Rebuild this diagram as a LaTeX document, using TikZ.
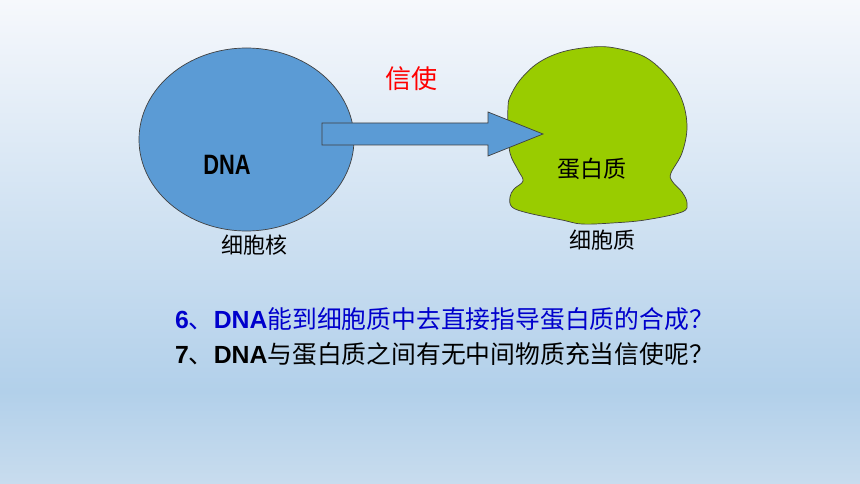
\documentclass[tikz,border=0pt]{standalone}
\usepackage{fontspec}
\setmainfont{Liberation Sans}
\newfontfamily\cjk{Noto Sans CJK SC}
\newfontfamily\narrowsans[FakeStretch=0.78]{Liberation Sans}
\usepackage{tikz}
\usetikzlibrary{shapes.geometric}
\definecolor{bgtop}{HTML}{F6F8FC}
\definecolor{bgmid}{HTML}{B2D0EA}
\definecolor{bgbot}{HTML}{C8DCEE}
\definecolor{nucblue}{HTML}{5B9BD5}
\definecolor{plasmagreen}{HTML}{99CC00}
\definecolor{qblue}{HTML}{0000CC}
\tikzset{%
  outline/.style = {draw=black!75, line width=0.7pt},
     cell/.style = {ellipse, outline, fill=nucblue, inner sep=0pt},
      tag/.style = {inner sep=0pt, font=\cjk\fontsize{22}{26}\selectfont},
     line/.style = {inner sep=0pt, anchor=base west,
                    font=\fontsize{24.8}{28}\selectfont\bfseries},
}
\newcommand{\zh}[1]{{\cjk\mdseries #1}}

\begin{document}
\begin{tikzpicture}[x=1pt, y=-1pt]
  \useasboundingbox (0,0) rectangle (860,484);
  \shade[top color=bgtop, bottom color=bgmid] (0,0) rectangle (860,392);
  \shade[top color=bgmid, bottom color=bgbot] (0,391) rectangle (860,484);

  % nucleus and cytoplasm
  \node (nucleus) [cell, minimum width=215pt, minimum height=183pt] at (246.5,139.5) {};
  \draw[outline, fill=plasmagreen] plot[smooth cycle, tension=0.6] coordinates {
    (508,107) (508,127) (510,153) (518,170) (523,181) (514,189) (510,197)
    (512,207) (528,213) (562,220) (582,224) (612,223) (645,220) (682,212)
    (687,203) (682,192) (672,181) (671,173) (682,153) (687,127) (682,100)
    (668,77) (645,57) (615,48) (592,47) (562,52) (538,63) (520,80) (510,97)};
  \coordinate (plasma) at (597,135);

  % messenger arrow
  \draw[outline, fill=nucblue] (322,123) -- (488,123) -- (488,112) -- (543,134)
    -- (488,156) -- (488,145) -- (322,145) -- cycle;

  \node (msg)     [tag, text=red, font=\cjk\fontsize{26}{30}\selectfont] at (411,79) {信使};
  \node (dna)     [inner sep=0pt, font=\narrowsans\fontsize{28}{32}\selectfont\bfseries] at (227,165) {DNA};
  \node (protein) [tag, font=\cjk\fontsize{23}{27}\selectfont] at (592,169) {蛋白质};
  \node (nuclab)  [tag] at (254,245) {细胞核};
  \node (plalab)  [tag] at (602,240) {细胞质};

  \node (q6) [line, text=qblue] at (175,328) {6\zh{、}DNA\zh{能到细胞质中去直接指导蛋白质的合成？}};
  \node (q7) [line]             at (175,363) {7\zh{、}DNA\zh{与蛋白质之间有无中间物质充当信使呢？}};
\end{tikzpicture}
\end{document}
